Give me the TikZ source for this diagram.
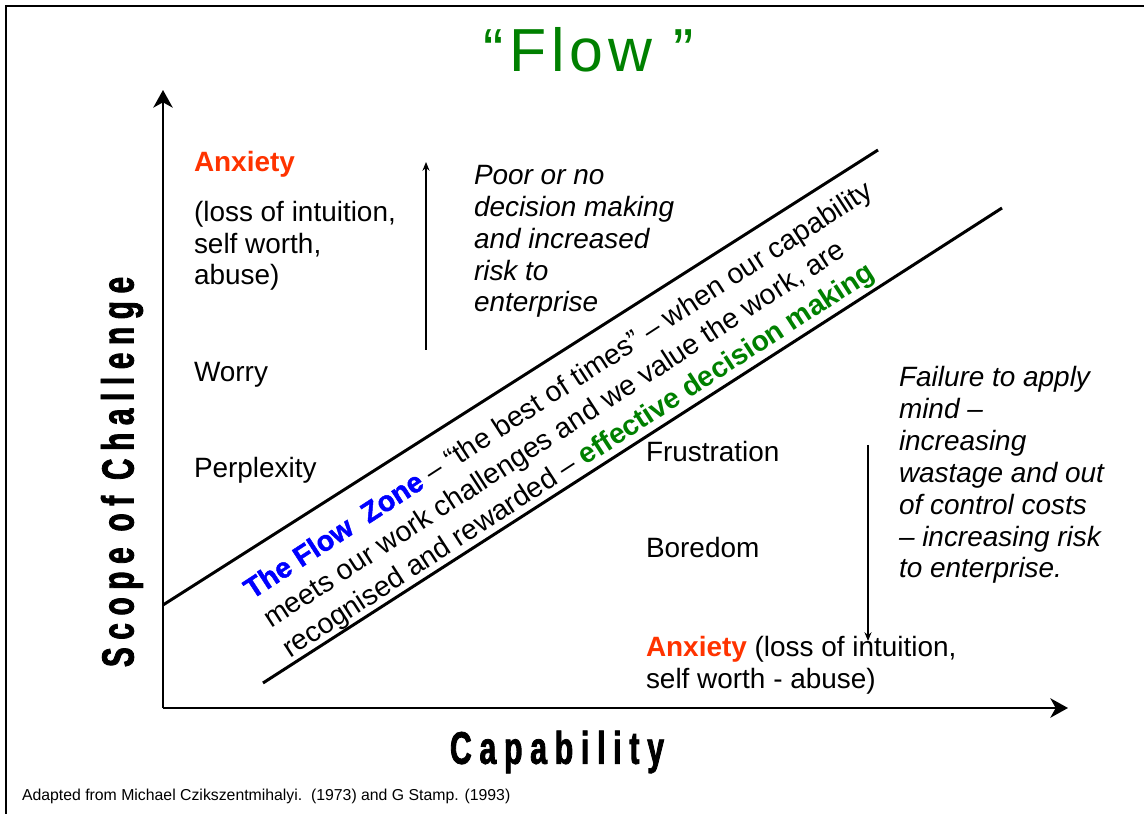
\documentclass[tikz,border=0pt]{standalone}
\usepackage{fontspec}
\setmainfont{Liberation Sans}
\newfontfamily\axisfont[FakeStretch=0.66,LetterSpace=17,FakeBold=1.8]{Liberation Sans Bold}
\newfontfamily\heavyfont[FakeBold=1.6]{Liberation Sans Bold}
\newfontfamily\titlefont[LetterSpace=8]{Liberation Sans}
\usetikzlibrary{positioning}
\usetikzlibrary{arrows.meta}

\definecolor{flowgreen}{RGB}{0,128,0}
\definecolor{anxred}{RGB}{255,51,0}
\definecolor{zoneblue}{RGB}{0,0,255}

\begin{document}
\begin{tikzpicture}[
        x=0.02cm, y=-0.02cm,
        txt/.style = {
            font=\fontsize{15.9}{18.2}\selectfont,
            anchor=base west,
            align=left,
            inner sep=0pt,
            outer sep=0pt
        },
        itxt/.style = {txt, font=\fontsize{15.9}{18.2}\selectfont\itshape},
        axis/.style = {line width=1.7pt, -{Stealth[length=10pt, width=11pt, inset=3pt]}},
        zone/.style = {line width=1.7pt},
        trend/.style = {line width=0.6pt, -{Stealth[length=5pt, width=4pt]}}
            ]
            \useasboundingbox (0,0) rectangle (1144,814);
            
            % page frame
            \coordinate (fbl) at (6,820);
            \coordinate (ftl) at (6,6);
            \coordinate (ftr) at (1150,6);
            \draw[line width=1.1pt] (fbl) -- (ftl) -- (ftr);
            
            \node[font=\titlefont\fontsize{34.6}{40}\selectfont, text=flowgreen] (title) at (589,50) {“Flow ”};
            
            % axes
            \coordinate (origin) at (163,708);
            \coordinate (ytip) at (163,90);
            \coordinate (xtip) at (1068,708);
            \draw[axis] (origin) -- (ytip);
            \draw[axis] (origin) -- (xtip);
            
            \node[font=\axisfont\fontsize{26}{28}\selectfont] (xlab) at (557,752) {Capability};
            \node[font=\axisfont\fontsize{25.6}{28}\selectfont, rotate=90] (ylab) at (122,472) {Scope of Challenge};
            
            % the flow channel (multi-line nodes sit on their last baseline)
            \coordinate (up1) at (163,605);
            \coordinate (up2) at (878,150);
            \coordinate (lo1) at (263,683);
            \coordinate (lo2) at (1002,208);
            \draw[zone] (up1) -- (up2);
            \draw[zone] (lo1) -- (lo2);
            
            \node[txt, rotate=33, font=\fontsize{16.2}{19.8}\selectfont] (zonetext) at (290,658)
                {\textcolor{zoneblue}{\heavyfont The Flow\ \ Zone} – “the best of times” – when our capability\\
                 meets our work challenges and we value the work, are\\
                 recognised and rewarded – \textcolor{flowgreen}{\textbf{effective decision making}}};
            
            % above the channel
            \node[txt, text=anxred] (anx1) at (194,172) {\textbf{Anxiety}};
            \node[txt] (loss1) at (194,285) {(loss of intuition,\\self worth,\\abuse)};
            \node[txt] (worry) at (194,382) {Worry};
            \node[txt] (perplex) at (194,478) {Perplexity};
            \node[itxt] (poor) at (474,312) {Poor or no\\decision making\\and increased\\risk to\\enterprise};
            
            \coordinate (ua1) at (426,350);
            \coordinate (ua2) at (426,162);
            \draw[trend] (ua1) -- (ua2);
            
            % below the channel
            \node[txt] (frust) at (646,461) {Frustration};
            \node[txt] (bored) at (646,558) {Boredom};
            \node[txt] (anx2) at (646,688) {\textcolor{anxred}{\textbf{Anxiety}} (loss of intuition,\\self worth - abuse)};
            \node[itxt] (fail) at (899,578) {Failure to apply\\mind –\\increasing\\wastage and out\\of control costs\\– increasing risk\\to enterprise.};
            
            \coordinate (da1) at (868,445);
            \coordinate (da2) at (868,641);
            \draw[trend] (da1) -- (da2);
            
            \node[txt, font=\fontsize{9}{11}\selectfont] (src) at (22,800) {Adapted from Michael Czikszentmihalyi.\ \ (1973) and G Stamp. (1993)};
            
        \end{tikzpicture}
\end{document}
